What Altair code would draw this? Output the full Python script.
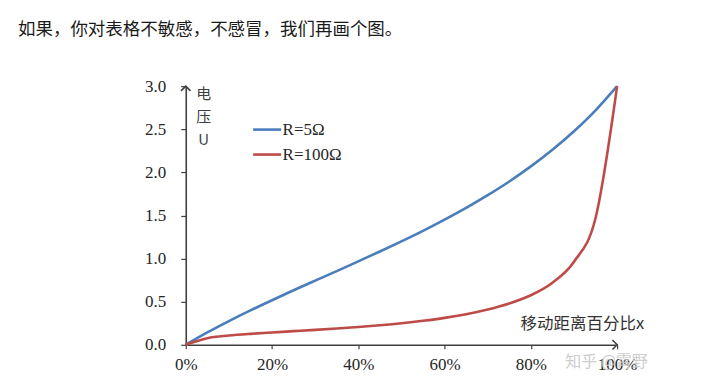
import altair as alt
import pandas as pd

# x positions (fraction of travel)
x_vals = [0, 0.05, 0.10, 0.15, 0.20, 0.25, 0.30, 0.35, 0.40, 0.45, 0.50, 0.55, 0.60,
          0.65, 0.70, 0.75, 0.80, 0.85, 0.90, 0.95, 1.00]
# R = 5 ohm (blue)
u_r5 = [0, 0.143, 0.275, 0.399, 0.517, 0.632, 0.744, 0.855, 0.968, 1.082, 1.200, 1.322,
        1.452, 1.588, 1.735, 1.894, 2.069, 2.262, 2.477, 2.720, 3.000]
# R = 100 ohm (red)
u_r100 = [0, 0.077, 0.107, 0.127, 0.143, 0.158, 0.173, 0.189, 0.207, 0.227, 0.250, 0.278,
          0.312, 0.355, 0.410, 0.480, 0.575, 0.720, 0.964, 1.470, 3.000]

series_names = ["R=5Ω", "R=100Ω"]
series_colors = ["#4A7EBB", "#BE4B48"]

y_ticks = [0, 0.5, 1.0, 1.5, 2.0, 2.5, 3.0]
x_ticks = [0, 0.2, 0.4, 0.6, 0.8, 1.0]

rows = []
for xv, a, b in zip(x_vals, u_r5, u_r100):
    rows.append({"x": xv, "U": a, "series": series_names[0]})
    rows.append({"x": xv, "U": b, "series": series_names[1]})
df = pd.DataFrame(rows)

W, H = 432, 259
LEFT, TOP = 178, 78

xs = alt.Scale(domain=[0, 1], nice=False)
ys = alt.Scale(domain=[0, 3], nice=False)

serif = "Liberation Serif"
label_col = "#262626"
axis_col = "#404040"

lines = alt.Chart(df).mark_line(strokeWidth=2.6, interpolate="monotone").encode(
    x=alt.X("x:Q", scale=xs,
            axis=alt.Axis(values=x_ticks, format=".0%", title=None, grid=False,
                          domainColor=axis_col, domainWidth=1.6, tickColor=axis_col,
                          tickSize=4, tickWidth=1.2, labelPadding=8, labelFont=serif,
                          labelFlush=False, labelFontSize=17, labelColor=label_col)),
    y=alt.Y("U:Q", scale=ys,
            axis=alt.Axis(values=y_ticks, format=".1f", title=None, grid=False,
                          domainColor=axis_col, domainWidth=1.6, tickColor=axis_col,
                          tickSize=5, tickWidth=1.2, labelPadding=15, labelFont=serif,
                          labelFlush=False, labelFontSize=17, labelColor=label_col)),
    color=alt.Color("series:N", sort=series_names,
                    scale=alt.Scale(domain=series_names, range=series_colors),
                    legend=alt.Legend(title=None, orient="none", legendX=66, legendY=28,
                                      symbolType="stroke", symbolSize=784,
                                      symbolStrokeWidth=2.6, labelFont=serif,
                                      labelFontSize=17, labelColor=label_col,
                                      labelOffset=0, rowPadding=1)),
)

arrow_df = pd.DataFrame({"x": [0, 1], "U": [3, 0], "dir": ["up", "right"]})
arrow_up = alt.Chart(arrow_df[arrow_df.dir == "up"]).mark_point(
    shape="M-1,1L0,0L1,1", filled=False, size=90, strokeWidth=1.6, color=axis_col, opacity=1
).encode(x=alt.X("x:Q", scale=xs), y=alt.Y("U:Q", scale=ys))
arrow_right = alt.Chart(arrow_df[arrow_df.dir == "right"]).mark_point(
    shape="M-1,-1L0,0L-1,1", filled=False, size=90, strokeWidth=1.6, color=axis_col, opacity=1
).encode(x=alt.X("x:Q", scale=xs), y=alt.Y("U:Q", scale=ys))

y_title = alt.Chart(pd.DataFrame({"t": [["电", "压", "U"]]})).mark_text(
    font="Noto Sans CJK SC", fontSize=15, color="#404040", align="center",
    baseline="top", lineHeight=23
).encode(x=alt.value(18), y=alt.value(1), text="t")

x_title = alt.Chart(pd.DataFrame({"t": ["移动距离百分比x"]})).mark_text(
    font="Noto Sans CJK SC", fontSize=16.5, color="#333333", align="right",
    baseline="middle"
).encode(x=alt.value(459), y=alt.value(238), text="t")

heading = alt.Chart(pd.DataFrame({"t": ["如果，你对表格不敏感，不感冒，我们再画个图。"]})).mark_text(
    font="Noto Sans CJK SC", fontSize=17.5, color="#1a1a1a", align="left",
    baseline="middle"
).encode(x=alt.value(-168), y=alt.value(-56), text="t")

watermark = alt.Chart(pd.DataFrame({"t": ["知乎 @霄野"]})).mark_text(
    font="Noto Sans CJK SC", fontSize=16, color="#c8c8c8", align="left",
    baseline="middle", opacity=0.9
).encode(x=alt.value(380), y=alt.value(276), text="t")

chart = alt.layer(lines, arrow_up, arrow_right, y_title, x_title, heading, watermark).properties(
    width=W, height=H,
    background="white",
    autosize=alt.AutoSizeParams(type="none"),
    padding={"left": LEFT, "top": TOP, "right": 90, "bottom": 40},
).configure_view(stroke=None)

chart.save("out.html", embed_options={"renderer": "svg", "actions": False})
